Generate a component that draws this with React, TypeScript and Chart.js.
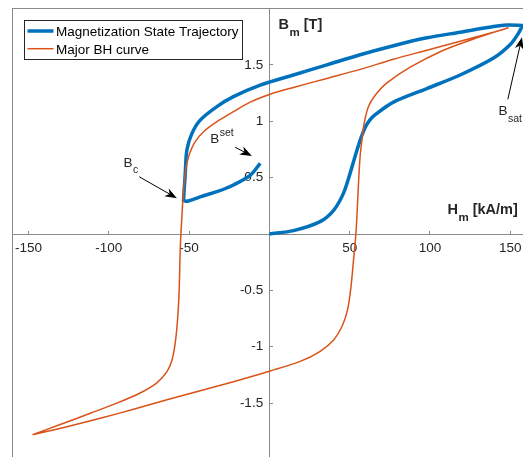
import React, { useEffect, useRef } from 'react';
import { Chart, registerables } from 'chart.js';

Chart.register(...registerables);

// ---- Data (H in kA/m, B in T) ----
const seriesLabels = ['Magnetization State Trajectory', 'Major BH curve'];

const trajH = [0, 15, 31.6, 40, 46.1, 50.3, 53.4, 56.5, 59.5, 62.5, 66.5, 77.3, 98.1, 118.8, 139.6, 150, 155.1, 157.6, 157.6, 147.9, 139.6, 118.8, 98.1, 77.3, 56.5, 35.8, 15, -5.7, -22.4, -32.7, -43.1, -48.3, -51.4, -52.4, -53.5, -53.5, -51.4, -43.1, -32.7, -22.4, -12, -5.7];
const trajB = [0, 0.03, 0.11, 0.21, 0.36, 0.54, 0.69, 0.83, 0.94, 1.01, 1.065, 1.17, 1.29, 1.41, 1.56, 1.68, 1.78, 1.85, 1.85, 1.853, 1.84, 1.79, 1.74, 1.67, 1.59, 1.5, 1.41, 1.32, 1.218, 1.13, 1.01, 0.89, 0.745, 0.54, 0.3, 0.3, 0.29, 0.33, 0.375, 0.435, 0.52, 0.627];

const majorH = [148.9, 139.6, 118.8, 98.1, 77.3, 56.5, 35.8, 15, 0.5, -12, -22.4, -32.7, -41, -46.2, -49.3, -51.4, -52.9, -53.9, -54.5, -55.1, -55.6, -56.2, -57.2, -58.7, -60.7, -63.8, -70.1, -80.5, -95, -111.6, -130.3, -147.5,
  -147.5, -126.1, -105.4, -84.6, -63.8, -43.1, -22.4, 0.5, 19.2, 31.6, 40, 45.2, 48.7, 50.8, 52.4, 53.9, 54.5, 55.5, 56.5, 57.6, 59, 61.7, 65.9, 73.2, 87.7, 108.4, 129.2, 148.9];
const majorB = [1.83, 1.79, 1.71, 1.63, 1.55, 1.46, 1.38, 1.3, 1.24, 1.17, 1.085, 0.996, 0.907, 0.82, 0.73, 0.627, 0.48, 0.3, 0.153, 0.006, -0.17, -0.5, -0.76, -0.97, -1.12, -1.22, -1.32, -1.41, -1.5, -1.59, -1.69, -1.78,
  -1.78, -1.71, -1.635, -1.555, -1.47, -1.39, -1.31, -1.215, -1.13, -1.04, -0.94, -0.82, -0.67, -0.47, -0.23, 0.006, 0.153, 0.45, 0.69, 0.83, 0.98, 1.13, 1.23, 1.34, 1.48, 1.63, 1.74, 1.83];

const xTicks = [-150, -100, -50, 50, 100, 150];
const yTicks = [-1.5, -1, -0.5, 0.5, 1, 1.5];

// annotations (data coordinates)
const annoTexts = [
  { base: 'B', script: 'c', sup: false },
  { base: 'B', script: 'set', sup: true },
  { base: 'B', script: 'sat', sup: false },
];
const annoTextAt = [[-90.9, 0.597], [-36.9, 0.81], [142.7, 1.055]];
const annoArrowFrom = [[-81.1, 0.508], [-21.3, 0.769], [148.5, 1.195]];
const annoArrowTo = [[-57.6, 0.317], [-10.9, 0.692], [157.3, 1.745]];

const axisTitleTexts = [
  { base: 'B', script: 'm', rest: ' [T]' },
  { base: 'H', script: 'm', rest: ' [kA/m]' },
];
const axisTitleAt = [[5.7, 1.818], [110.9, 0.177]];

const BLUE = '#0072BD';
const ORANGE = '#D95319';
const AXIS = '#8a8a8a';
const TEXT = '#262626';
const FAMILY = '"Liberation Sans", Arial, Helvetica, sans-serif';

function drawArrow(ctx: CanvasRenderingContext2D, x1: number, y1: number, x2: number, y2: number) {
  const ang = Math.atan2(y2 - y1, x2 - x1);
  const len = 12;
  const hw = 4.5;
  const back = 8.5;
  ctx.save();
  ctx.strokeStyle = '#000';
  ctx.fillStyle = '#000';
  ctx.lineWidth = 1;
  ctx.beginPath();
  ctx.moveTo(x1, y1);
  ctx.lineTo(x2 - Math.cos(ang) * back, y2 - Math.sin(ang) * back);
  ctx.stroke();
  const c = Math.cos(ang), s = Math.sin(ang);
  const bx = x2 - c * len, by = y2 - s * len;
  ctx.beginPath();
  ctx.moveTo(x2, y2);
  ctx.lineTo(bx - s * hw, by + c * hw);
  ctx.lineTo(x2 - c * back, y2 - s * back);
  ctx.lineTo(bx + s * hw, by - c * hw);
  ctx.closePath();
  ctx.fill();
  ctx.restore();
}

function drawScripted(ctx: CanvasRenderingContext2D, base: string, script: string, sup: boolean, x: number, y: number, bold: boolean, rest?: string) {
  const w = bold ? 'bold ' : '';
  const big = bold ? 14.5 : 13.5;
  const small = bold ? 11.5 : 10.5;
  ctx.save();
  ctx.fillStyle = TEXT;
  ctx.textBaseline = 'alphabetic';
  ctx.textAlign = 'left';
  ctx.font = `${w}${big}px ${FAMILY}`;
  ctx.fillText(base, x, y);
  let cx = x + ctx.measureText(base).width;
  ctx.font = `${w}${small}px ${FAMILY}`;
  ctx.fillText(script, cx + 0.5, sup ? y - 6.5 : y + 6.5);
  cx += ctx.measureText(script).width + 0.5;
  if (rest) {
    ctx.font = `${w}${big}px ${FAMILY}`;
    ctx.fillText(rest, cx, y);
  }
  ctx.restore();
}

const framePlugin = {
  id: 'matlabFrame',
  beforeDatasetsDraw(chart: any) {
    const { ctx, chartArea } = chart;
    ctx.save();
    ctx.strokeStyle = AXIS;
    ctx.lineWidth = 1;
    ctx.strokeRect(chartArea.left, chartArea.top, chartArea.right - chartArea.left, chartArea.bottom - chartArea.top);
    ctx.restore();
  },
  afterDraw(chart: any) {
    const { ctx, chartArea, scales } = chart;
    const X = (v: number) => scales.x.getPixelForValue(v);
    const Y = (v: number) => scales.y.getPixelForValue(v);
    annoTexts.forEach((t, i) => {
      drawScripted(ctx, t.base, t.script, t.sup, X(annoTextAt[i][0]), Y(annoTextAt[i][1]), false);
      drawArrow(ctx, X(annoArrowFrom[i][0]), Y(annoArrowFrom[i][1]), X(annoArrowTo[i][0]), Y(annoArrowTo[i][1]));
    });
    axisTitleTexts.forEach((t, i) => {
      drawScripted(ctx, t.base, t.script, false, X(axisTitleAt[i][0]), Y(axisTitleAt[i][1]), true, t.rest);
    });
    // legend
    const ds = chart.data.datasets;
    ctx.save();
    ctx.font = `13.5px ${FAMILY}`;
    const maxW = Math.max(...ds.map((d: any) => ctx.measureText(d.label).width));
    const bx = Math.round(chartArea.left + 11) + 0.5;
    const by = Math.round(chartArea.top + 11) + 0.5;
    const bw = Math.round(31.5 + maxW + 4);
    const bh = 39;
    ctx.fillStyle = '#fff';
    ctx.fillRect(bx, by, bw, bh);
    ctx.strokeStyle = TEXT;
    ctx.lineWidth = 1;
    ctx.strokeRect(bx, by, bw, bh);
    ds.forEach((d: any, i: number) => {
      const ly = by + 10.5 + i * 17.7;
      ctx.strokeStyle = d.borderColor;
      ctx.lineWidth = d.borderWidth;
      ctx.beginPath();
      ctx.moveTo(bx + 3, ly);
      ctx.lineTo(bx + 29, ly);
      ctx.stroke();
      ctx.fillStyle = '#000';
      ctx.textBaseline = 'alphabetic';
      ctx.fillText(d.label, bx + 31.5, ly + 4.8);
    });
    ctx.restore();
  },
};

export default function App() {
  const ref = useRef<HTMLCanvasElement | null>(null);
  useEffect(() => {
    if (!ref.current) return;
    const traj = trajH.map((h, i) => ({ x: h, y: trajB[i] }));
    const major = majorH.map((h, i) => ({ x: h, y: majorB[i] }));
    const tickFont = { family: FAMILY, size: 13.5 };
    const chart = new Chart(ref.current, {
      type: 'scatter',
      data: {
        datasets: [
          { label: seriesLabels[0], data: traj, showLine: true, borderColor: BLUE, backgroundColor: BLUE, borderWidth: 3.5, pointRadius: 0, tension: 0.3, order: 2, fill: false },
          { label: seriesLabels[1], data: major, showLine: true, borderColor: ORANGE, backgroundColor: ORANGE, borderWidth: 1.5, pointRadius: 0, tension: 0.3, order: 1, fill: false },
        ],
      },
      options: {
        responsive: false,
        animation: false,
        devicePixelRatio: 1,
        layout: { padding: { left: 12.5, top: 8.5, right: 13.7, bottom: 10.5 } },
        plugins: { legend: { display: false }, tooltip: { enabled: false } },
        scales: {
          x: {
            type: 'linear', min: -160, max: 160, position: { y: 0 } as any,
            afterBuildTicks: (s: any) => { s.ticks = xTicks.map((v) => ({ value: v })); },
            border: { display: true, color: AXIS, width: 1 },
            grid: { display: true, drawOnChartArea: false, drawTicks: true, tickLength: -4, color: AXIS },
            ticks: { color: TEXT, font: tickFont, padding: 10, maxRotation: 0, autoSkip: false, callback: (v: any) => String(v) },
          },
          y: {
            type: 'linear', min: -2, max: 2, position: { x: 0 } as any,
            afterBuildTicks: (s: any) => { s.ticks = yTicks.map((v) => ({ value: v })); },
            border: { display: true, color: AXIS, width: 1 },
            grid: { display: true, drawOnChartArea: false, drawTicks: true, tickLength: -4, color: AXIS },
            ticks: { color: TEXT, font: tickFont, padding: 0, autoSkip: false, callback: () => '' },
          },
          yl: {
            type: 'linear', axis: 'y', min: -2, max: 2, position: { x: -3.9 } as any,
            afterBuildTicks: (s: any) => { s.ticks = yTicks.map((v) => ({ value: v })); },
            border: { display: false },
            grid: { display: false },
            ticks: { color: TEXT, font: tickFont, padding: 0, autoSkip: false, callback: (v: any) => String(v) },
          },
        },
      } as any,
      plugins: [framePlugin],
    });
    return () => chart.destroy();
  }, []);
  return (
    <div style={{ position: 'absolute', left: 0, top: 0, width: 523, height: 457, overflow: 'hidden', background: '#fff' }}>
      <canvas ref={ref} width={540} height={470} style={{ display: 'block', width: 540, height: 470 }} />
    </div>
  );
}
